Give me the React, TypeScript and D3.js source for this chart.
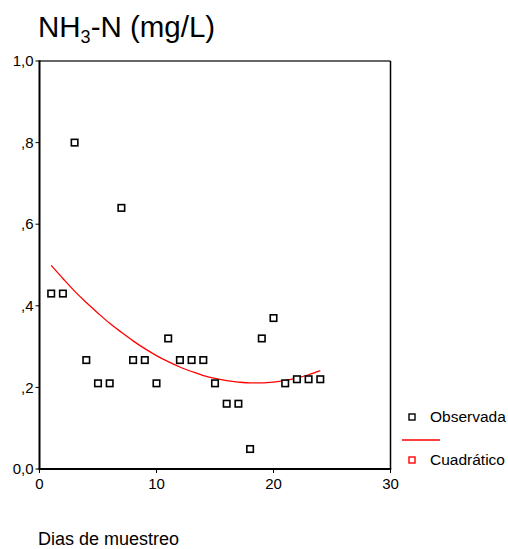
import React from "react";
import * as d3 from "d3";

const days = [1, 2, 3, 4, 5, 6, 7, 8, 9, 10, 11, 12, 13, 14, 15, 16, 17, 18, 19, 20, 21, 22, 23, 24];
const observed = [0.43, 0.43, 0.8, 0.267, 0.21, 0.21, 0.64, 0.267, 0.267, 0.21, 0.32, 0.267, 0.267, 0.267, 0.21, 0.16, 0.16, 0.049, 0.32, 0.37, 0.21, 0.22, 0.22, 0.22];
const quadratic = [0.499, 0.467, 0.436, 0.408, 0.382, 0.357, 0.335, 0.314, 0.295, 0.278, 0.263, 0.25, 0.239, 0.229, 0.222, 0.2165, 0.213, 0.211, 0.211, 0.213, 0.217, 0.223, 0.231, 0.241];
const yTicks = [0, 0.2, 0.4, 0.6, 0.8, 1.0];
const yTickLabels = ["0,0", ",2", ",4", ",6", ",8", "1,0"];
const xTicks = [0, 10, 20, 30];
const legendLabels = ["Observada", "Cuadrático"];

const W = 508;
const H = 549;
const left = 39.5;
const right = 390.5;
const top = 61;
const bottom = 469;
const font = "Arial, 'Liberation Sans', Helvetica, sans-serif";

export default function App() {
  const x = d3.scaleLinear().domain([0, 30]).range([left, right]);
  const y = d3.scaleLinear().domain([0, 1]).range([bottom, top]);
  const line = d3
    .line<number>()
    .x((_, i) => x(days[i]))
    .y((d) => y(d))
    .curve(d3.curveMonotoneX);
  const sq = 6.5;

  return (
    <svg
      width={W}
      height={H}
      style={{ position: "absolute", left: 0, top: 0, background: "#fff" }}
      fontFamily={font}
    >
      <rect x={0} y={0} width={W} height={H} fill="#fff" />
      {/* Title */}
      <text x={38} y={37} fontSize={29.5} fill="#000">
        NH
        <tspan fontSize={18} dy={6}>3</tspan>
        <tspan dy={-6}>-N (mg/L)</tspan>
      </text>

      {/* Frame */}
      <line x1={left} x2={right} y1={top} y2={top} stroke="#333" strokeWidth={1.5} />
      <line x1={right} x2={right} y1={top} y2={bottom} stroke="#000" strokeWidth={1.5} />
      <line x1={left} x2={left} y1={top - 0.75} y2={bottom + 1} stroke="#000" strokeWidth={2} />
      <line x1={left - 1} x2={right + 0.75} y1={bottom} y2={bottom} stroke="#000" strokeWidth={2} />

      {/* Y ticks */}
      {yTicks.map((t, i) => (
        <g key={"y" + i}>
          <line x1={left - 4} x2={left} y1={y(t)} y2={y(t)} stroke="#000" strokeWidth={1} />
          <text
            x={left - 6}
            y={y(t)}
            dy="0.35em"
            textAnchor="end"
            fontSize={15}
            fill="#000"
          >
            {yTickLabels[i]}
          </text>
        </g>
      ))}

      {/* X ticks */}
      {xTicks.map((t, i) => (
        <g key={"x" + i}>
          <line x1={x(t)} x2={x(t)} y1={bottom} y2={bottom + 4} stroke="#000" strokeWidth={1} />
          <text x={x(t)} y={bottom + 20} textAnchor="middle" fontSize={15} fill="#000">
            {t}
          </text>
        </g>
      ))}

      {/* X axis title */}
      <text x={38} y={545} fontSize={18} fill="#000">
        Dias de muestreo
      </text>

      {/* Fit curve */}
      <path d={line(quadratic) || ""} fill="none" stroke="#ff0000" strokeWidth={1.3} />

      {/* Observed points */}
      {observed.map((v, i) => (
        <rect
          key={"p" + i}
          x={x(days[i]) - sq / 2}
          y={y(v) - sq / 2}
          width={sq}
          height={sq}
          fill="#fff"
          stroke="#000"
          strokeWidth={1.6}
        />
      ))}

      {/* Legend */}
      <rect x={412 - 3} y={417 - 3} width={6} height={6} fill="#fff" stroke="#000" strokeWidth={1.4} />
      <text x={430} y={417} dy="0.35em" fontSize={15.5} fill="#000">
        {legendLabels[0]}
      </text>
      <line x1={402} x2={440} y1={440} y2={440} stroke="#ff0000" strokeWidth={1.3} />
      <rect x={412 - 3} y={460 - 3} width={6} height={6} fill="#fff" stroke="#ff0000" strokeWidth={1.4} />
      <text x={430} y={460} dy="0.35em" fontSize={15.5} fill="#000">
        {legendLabels[1]}
      </text>
    </svg>
  );
}
